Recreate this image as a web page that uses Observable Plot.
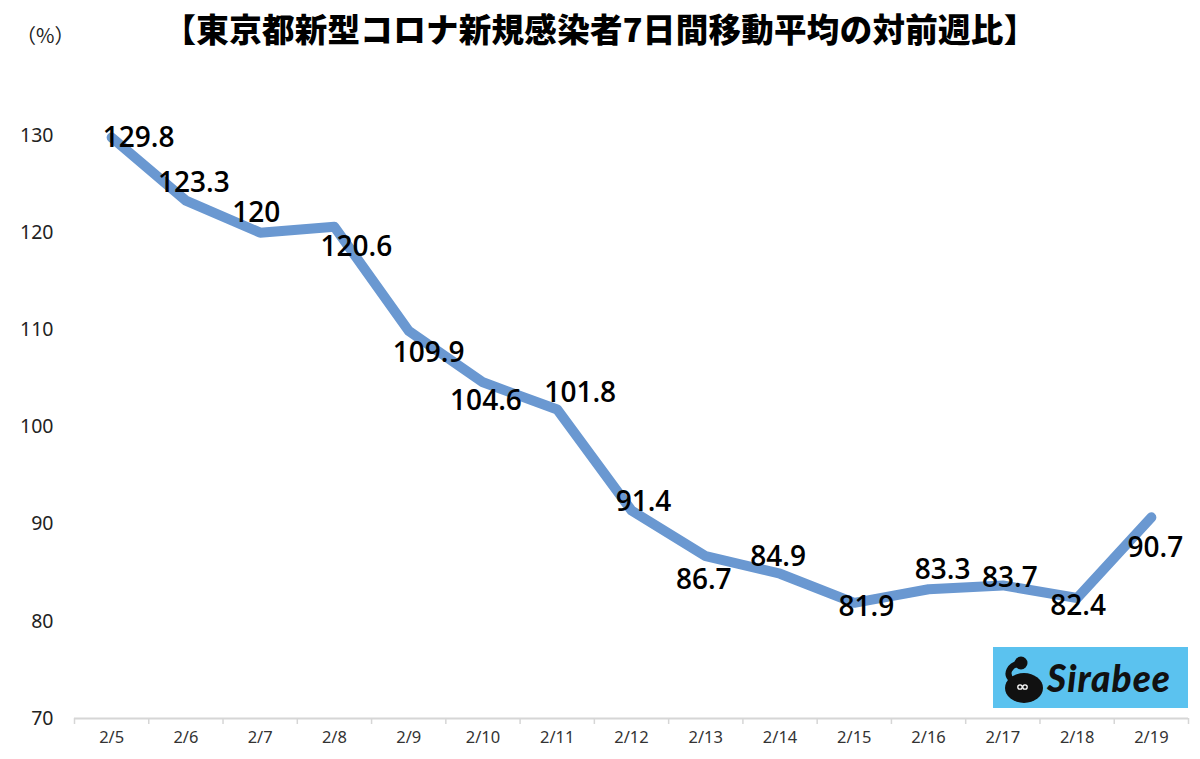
<!DOCTYPE html>
<html>
<head>
<meta charset="utf-8">
<script src="https://cdn.jsdelivr.net/npm/d3@7"></script>
<script src="https://cdn.jsdelivr.net/npm/@observablehq/plot@0.6"></script>
<style>
  html, body { margin: 0; padding: 0; background: #fff; }
  #wrap { position: relative; width: 1200px; height: 759px; overflow: hidden; font-family: "Noto Sans", "Noto Sans CJK JP", sans-serif; }
  #title { position: relative; height: 60px; text-align: center; font-family: "Noto Sans CJK JP", sans-serif; font-weight: 900; font-size: 32.5px; line-height: 56px; color: #000; letter-spacing: 0.3px; }
  #unit { position: absolute; left: 16px; top: 21px; font-size: 20px; font-weight: 400; line-height: 28px; color: #222; letter-spacing: 0; font-family: "Noto Sans CJK JP", sans-serif; }
  #logo { position: absolute; left: 993px; top: 647px; width: 195px; height: 61px; background: #5bc2ef; display: flex; align-items: center; }
  #logo span { font-family: Lato, "Noto Sans", sans-serif; font-weight: 900; font-style: italic; font-size: 37px; color: #111; margin-left: 0px; letter-spacing: 1px; }
</style>
</head>
<body>
<div id="wrap">
  <div id="title">【東京都新型コロナ新規感染者7日間移動平均の対前週比】<div id="unit">（%）</div></div>
  <div id="chart"></div>
  <div id="logo">
    <svg width="54" height="61" viewBox="0 0 54 61">
      <ellipse cx="31" cy="41" rx="19" ry="15" fill="#111"/>
      <circle cx="28" cy="16" r="6.5" fill="#111"/>
      <path d="M28 16 C 16 18, 12 27, 19 33" fill="none" stroke="#111" stroke-width="6" stroke-linecap="round"/>
      <circle cx="27" cy="40" r="2.2" fill="none" stroke="#fff" stroke-width="1.3"/>
      <circle cx="32" cy="40" r="2.2" fill="none" stroke="#fff" stroke-width="1.3"/>
    </svg>
    <span>Sirabee</span>
  </div>
</div>
<script>
const dates = ["2/5","2/6","2/7","2/8","2/9","2/10","2/11","2/12","2/13","2/14","2/15","2/16","2/17","2/18","2/19"];
const values = [129.8,123.3,120,120.6,109.9,104.6,101.8,91.4,86.7,84.9,81.9,83.3,83.7,82.4,90.7];
const yTicks = [70,80,90,100,110,120,130];

// label placement nudges (dx, dy in px), as in the original chart
const labelNudge = [[27,1],[8,-18],[-4,-20],[22,20],[20,22],[3,19],[23,-16],[12,-9],[-2,24],[-2,-17],[12,4],[14,-19],[7,-7],[1,8],[4,31]];

const data = dates.map((d, i) => ({i, date: d, value: values[i]}));
const boundaries = d3.range(dates.length + 1).map(k => k - 0.5);

const labelMarks = data.map((d, k) => Plot.text([d], {
  x: "i", y: "value", text: r => String(r.value),
  dx: labelNudge[k][0], dy: labelNudge[k][1],
  fontSize: 28, fontWeight: 600, fill: "#000",
  fontFamily: "'Open Sans', 'Noto Sans', sans-serif",
  textAnchor: "middle", lineAnchor: "middle"
}));

const chart = Plot.plot({
  width: 1200,
  height: 699,
  marginTop: 75,
  marginBottom: 41,
  marginLeft: 74,
  marginRight: 12,
  style: {background: "#fff", overflow: "visible"},
  x: {type: "linear", domain: [-0.5, dates.length - 0.5], label: null},
  y: {domain: [70, 130], label: null},
  marks: [
    Plot.ruleY([70], {stroke: "#d6d6d6", strokeWidth: 2}),
    Plot.axisX({ticks: boundaries, tickFormat: () => "", tickSize: 6, stroke: "#d6d6d6", strokeWidth: 1.5, label: null}),
    Plot.axisX({ticks: d3.range(dates.length), tickFormat: i => dates[i], tickSize: 0, tickPadding: 13,
      fontSize: 16.5, fill: "#333", fontFamily: "'Noto Sans', sans-serif", label: null}),
    Plot.axisY({ticks: yTicks, tickSize: 0, tickPadding: 21, fontSize: 19.5, fill: "#222",
      fontFamily: "'Noto Sans', sans-serif", label: null}),
    Plot.line(data, {x: "i", y: "value", stroke: "#6a98d1", strokeWidth: 10,
      strokeLinecap: "round", strokeLinejoin: "round"}),
    ...labelMarks
  ]
});
document.getElementById("chart").appendChild(chart);
</script>
</body>
</html>
